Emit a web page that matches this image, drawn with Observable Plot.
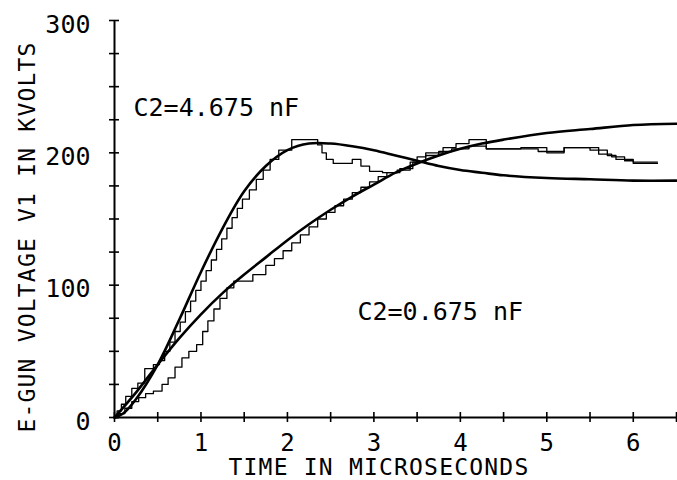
<!DOCTYPE html>
<html>
<head>
<meta charset="utf-8">
<script src="https://cdn.jsdelivr.net/npm/d3@7"></script>
<script src="https://cdn.jsdelivr.net/npm/@observablehq/plot@0.6"></script>
<style>
  html, body { margin: 0; padding: 0; background: white; }
</style>
</head>
<body>
<div id="chart"></div>
<script>
// Smooth (computed) curves
const smoothT = [0, 0.1, 0.25, 0.5, 0.75, 1.0, 1.25, 1.5, 1.75, 2.0, 2.25, 2.5, 2.75, 3.0, 3.25, 3.5, 3.75, 4.0, 4.25, 4.5, 5.0, 5.5, 6.0, 6.5];
const fastSmoothV = [0, 3, 14, 40, 74, 110, 143, 171, 190, 202, 207, 207, 205, 202, 198, 194, 190, 187, 185, 183, 181, 180, 179, 179];
const slowSmoothT = [0, 0.25, 0.5, 0.75, 1.0, 1.25, 1.5, 1.75, 2.0, 2.25, 2.5, 2.75, 3.0, 3.25, 3.5, 3.75, 4.0, 4.25, 4.5, 5.0, 5.5, 6.0, 6.5];
const slowSmoothV = [0, 19, 40, 60, 78, 94, 108, 121, 134, 146, 157, 167, 176, 185, 192, 198, 203, 207, 210, 215, 218, 221, 222];

// Measured (staircase) curves
const fastStepT = [0, 0.03, 0.08, 0.13, 0.2, 0.27, 0.35, 0.45, 0.52, 0.58, 0.64, 0.70, 0.76, 0.82, 0.88, 0.94, 1.0, 1.06, 1.12, 1.18, 1.24, 1.30, 1.36, 1.42, 1.48, 1.56, 1.64, 1.72, 1.80, 1.90, 2.05, 2.35, 2.40, 2.45, 2.53, 2.75, 2.85, 2.95, 3.10, 3.30, 3.45, 3.60, 3.75, 3.90, 4.10, 4.30, 4.70, 5.00, 5.20, 5.50, 5.70, 5.80, 6.00, 6.28];
const fastStepV = [0, 5, 10, 16, 22, 26, 37, 40, 43, 50, 57, 65, 72, 80, 88, 96, 103, 111, 119, 127, 135, 143, 151, 158, 165, 172, 180, 187, 195, 202, 210, 206, 200, 195, 192, 195, 190, 186, 185, 188, 193, 198, 201, 203, 205, 203, 204, 200, 204, 202, 198, 195, 193, 193];
const slowStepT = [0, 0.05, 0.12, 0.2, 0.28, 0.36, 0.45, 0.55, 0.62, 0.7, 0.78, 0.86, 0.95, 1.02, 1.08, 1.15, 1.22, 1.3, 1.38, 1.6, 1.75, 1.85, 1.95, 2.05, 2.15, 2.25, 2.35, 2.45, 2.55, 2.65, 2.75, 2.85, 2.95, 3.05, 3.15, 3.27, 3.42, 3.5, 3.6, 3.8, 3.95, 4.1, 4.3, 4.7, 4.9, 5.2, 5.6, 5.75, 5.9, 6.0, 6.28];
const slowStepV = [0, 3, 7, 12, 15, 18, 20, 25, 30, 38, 45, 50, 55, 65, 73, 82, 90, 98, 103, 108, 115, 120, 126, 132, 138, 144, 150, 155, 160, 165, 170, 174, 178, 182, 185, 187, 193, 197, 200, 204, 207, 210, 203, 203, 201, 204, 199, 197, 194, 192, 192];

// Annotations
const noteText = ["C2=4.675 nF", "C2=0.675 nF"];
const noteT = [0.22, 2.81];
const noteV = [234, 80];

// Axes
const xTicks = [0, 0.5, 1, 1.5, 2, 2.5, 3, 3.5, 4, 4.5, 5, 5.5, 6, 6.5];
const xLabels = [0, 1, 2, 3, 4, 5, 6];
const yTicks = [0, 25, 50, 75, 100, 125, 150, 175, 200, 225, 250, 275, 300];
const yLabels = [0, 100, 200, 300];
const xTitle = "TIME IN MICROSECONDS";
const yTitle = "E-GUN VOLTAGE V1 IN KVOLTS";

const pts = (ts, vs) => ts.map((t, i) => ({t, v: vs[i]}));
const font = "'DejaVu Sans Mono', monospace";

const chart = Plot.plot({
  width: 677,
  height: 480,
  marginLeft: 114,
  marginRight: 1,
  marginTop: 20,
  marginBottom: 63,
  x: {domain: [0, 6.5]},
  y: {domain: [0, 300]},
  style: {fontFamily: font, fontSize: "24px", background: "white", color: "black"},
  marks: [
    Plot.ruleY([0], {stroke: "black", strokeWidth: 2}),
    Plot.ruleX([0], {stroke: "black", strokeWidth: 2}),
    Plot.axisX({ticks: xTicks, tickSize: 10, dy: -5, tickFormat: () => "", label: null, strokeWidth: 1.6}),
    Plot.axisX({ticks: xLabels, tickSize: 0, tickPadding: 16, tickFormat: d3.format("d"), label: null, fontSize: 24}),
    Plot.axisY({ticks: yTicks, tickSize: 10, dx: 5, tickFormat: () => "", label: null, strokeWidth: 1.6}),
    Plot.axisY({ticks: yLabels, tickSize: 0, tickPadding: 24, dy: 4, tickFormat: d3.format("d"), label: null, fontSize: 25}),
    Plot.line(pts(fastStepT, fastStepV), {x: "t", y: "v", curve: "step-after", stroke: "black", strokeWidth: 1.3}),
    Plot.line(pts(slowStepT, slowStepV), {x: "t", y: "v", curve: "step-after", stroke: "black", strokeWidth: 1.3}),
    Plot.line(pts(smoothT, fastSmoothV), {x: "t", y: "v", curve: "catmull-rom", stroke: "black", strokeWidth: 2.6}),
    Plot.line(pts(slowSmoothT, slowSmoothV), {x: "t", y: "v", curve: "catmull-rom", stroke: "black", strokeWidth: 2.6}),
    Plot.text(noteText, {x: (d, i) => noteT[i], y: (d, i) => noteV[i], text: d => d, textAnchor: "start", lineAnchor: "middle", fontSize: 25}),
    Plot.text([xTitle], {frameAnchor: "bottom", textAnchor: "start", dx: -167, dy: 50, lineAnchor: "middle", fontSize: 23}),
    Plot.text([yTitle], {frameAnchor: "left", textAnchor: "middle", rotate: -90, dx: -87, dy: 18, lineAnchor: "middle", fontSize: 23})
  ]
});
// plotter-style wider letter spacing for the axis titles
d3.select(chart).selectAll("text")
  .filter(function() { const t = this.textContent; return t === xTitle || t === yTitle; })
  .style("letter-spacing", "1.2px");
document.getElementById("chart").appendChild(chart);
</script>
</body>
</html>
